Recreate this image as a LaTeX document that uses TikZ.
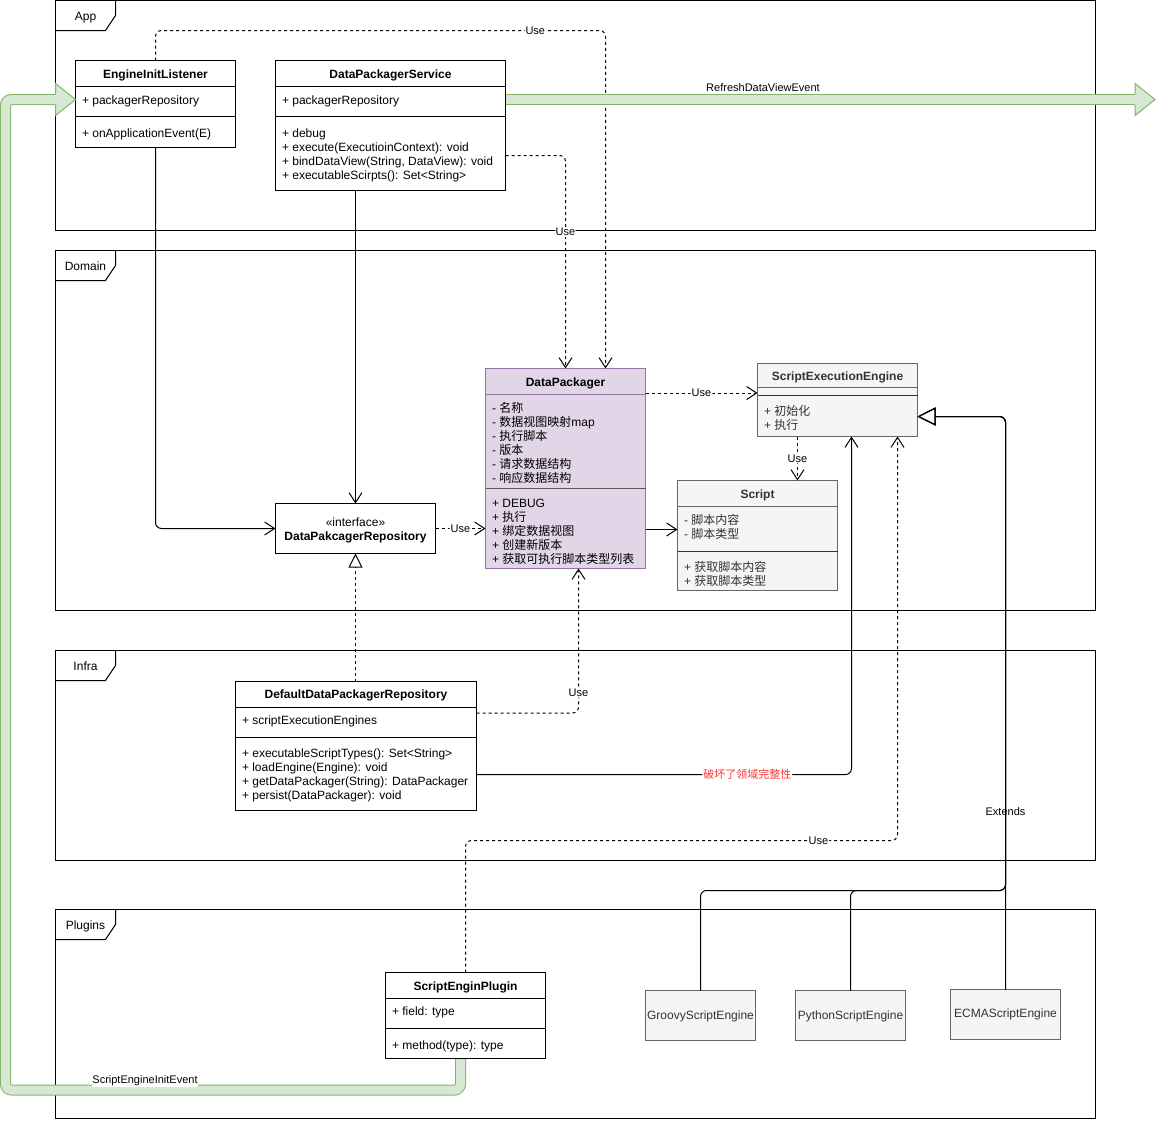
\documentclass[tikz,border=0pt]{standalone}
\usepackage{fontspec}
\setmainfont{Liberation Sans}
\newfontfamily\cjkf{Noto Sans CJK SC}
\usetikzlibrary{arrows.meta,calc}

\definecolor{dpfill}{HTML}{E1D5E7}
\definecolor{dpline}{HTML}{9673A6}
\definecolor{gfill}{HTML}{F5F5F5}
\definecolor{gline}{HTML}{666666}
\definecolor{gtext}{HTML}{333333}
\definecolor{evfill}{HTML}{D5E8D4}
\definecolor{evline}{HTML}{82B366}
\definecolor{warn}{HTML}{FF3333}

\begin{document}
\begin{tikzpicture}[x=1pt, y=-1pt, line width=1pt,
  font=\fontsize{12}{14}\selectfont,
  cls/.style={draw, fill=white, anchor=north west, inner sep=0pt, outer sep=0pt},
  grey/.style={cls, draw=gline, fill=gfill, text=gtext},
  frm/.style={draw, anchor=north west, inner sep=0pt, outer sep=0pt},
  txt/.style={anchor=base west, inner sep=0pt},
  hdr/.style={anchor=base, inner sep=0pt, font=\fontsize{12}{14}\selectfont\bfseries},
  lbl/.style={font=\fontsize{11}{13}\selectfont, fill=white, inner sep=1pt},
  uses/.style={dash pattern=on 3pt off 3pt, rounded corners=6pt, -{Straight Barb[length=10pt,width=13pt]}},
  assoc/.style={rounded corners=6pt, -{Straight Barb[length=10pt,width=13pt]}},
  realize/.style={dash pattern=on 3pt off 3pt, -{Triangle[open,length=14pt,width=14pt]}},
  extendsto/.style={rounded corners=6pt, -{Triangle[open,length=18pt,width=18pt]}},
]
\useasboundingbox (0,0) rectangle (1156,1120);

% ---------- layer frames ----------
\node[frm, minimum width=1040pt, minimum height=229.5pt] (appF) at (55.5,0.5) {};
\node[frm, minimum width=1040pt, minimum height=360pt] (domF) at (55.5,250.5) {};
\node[frm, minimum width=1040pt, minimum height=210pt] (infF) at (55.5,650.5) {};
\node[frm, minimum width=1040pt, minimum height=209pt] (plgF) at (55.5,909.5) {};
\foreach \f/\t in {appF/App, domF/Domain, infF/Infra, plgF/Plugins} {
  \draw ($(\f.north west)+(0,30)$) -- ++(50,0) -- ++(10,-15) -- ++(0,-15);
  \node[anchor=base, inner sep=0pt] (\f-tab) at ($(\f.north west)+(30,19.5)$) {\t};
}

% ---------- classes ----------
% EngineInitListener
\node[cls, minimum width=160pt, minimum height=87pt] (eil) at (75.5,60.5) {};
\draw ($(eil.north west)+(0,26)$) -- ($(eil.north east)+(0,26)$);
\draw ($(eil.north west)+(0,56)$) -- ($(eil.north east)+(0,56)$);
\node[hdr] (eil-h) at ($(eil.north)+(0,17.5)$) {EngineInitListener};
\node[txt] (eil-a) at ($(eil.north west)+(6,44)$) {+ packagerRepository};
\node[txt] (eil-m) at ($(eil.north west)+(6,77)$) {+ onApplicationEvent(E)};

% DataPackagerService
\node[cls, minimum width=230pt, minimum height=130pt] (dps) at (275.5,60.5) {};
\draw ($(dps.north west)+(0,26)$) -- ($(dps.north east)+(0,26)$);
\draw ($(dps.north west)+(0,56)$) -- ($(dps.north east)+(0,56)$);
\node[hdr] (dps-h) at ($(dps.north)+(0,17.5)$) {DataPackagerService};
\node[txt] (dps-a) at ($(dps.north west)+(6,44)$) {+ packagerRepository};
\foreach \t [count=\i] in {{+ debug}, {+ execute(ExecutioinContext): void},
    {+ bindDataView(String, DataView): void}, {+ executableScirpts(): Set<String>}}
  \node[txt] (dps-m\i) at ($(dps.north west)+(6,63+14*\i)$) {\t};

% DataPackager
\node[cls, draw=dpline, fill=dpfill, minimum width=160pt, minimum height=200pt] (dp) at (485.5,368.5) {};
\draw[dpline] ($(dp.north west)+(0,26)$) -- ($(dp.north east)+(0,26)$);
\draw[black!65, line width=1.3pt] ($(dp.north west)+(0,120)$) -- ($(dp.north east)+(0,120)$);
\node[hdr] (dp-h) at ($(dp.north)+(0,17.5)$) {DataPackager};
\foreach \t [count=\i] in {{- {\cjkf 名称}}, {- {\cjkf 数据视图映射}map}, {- {\cjkf 执行脚本}},
    {- {\cjkf 版本}}, {- {\cjkf 请求数据结构}}, {- {\cjkf 响应数据结构}}}
  \node[txt] (dp-a\i) at ($(dp.north west)+(6,30+14*\i)$) {\t};
\foreach \t [count=\i] in {{+ DEBUG}, {+ {\cjkf 执行}}, {+ {\cjkf 绑定数据视图}},
    {+ {\cjkf 创建新版本}}, {+ {\cjkf 获取可执行脚本类型列表}}}
  \node[txt] (dp-m\i) at ($(dp.north west)+(6,125+14*\i)$) {\t};

% DataPakcagerRepository (interface)
\node[cls, minimum width=160pt, minimum height=50pt] (dpr) at (275.5,503.5) {};
\node[anchor=base, inner sep=0pt] (dpr-s) at ($(dpr.north)+(0,23)$) {«interface»};
\node[hdr] (dpr-h) at ($(dpr.north)+(0,37)$) {DataPakcagerRepository};

% ScriptExecutionEngine
\node[grey, minimum width=160pt, minimum height=73pt] (see) at (757.5,363.5) {};
\draw[gline] ($(see.north west)+(0,24)$) -- ($(see.north east)+(0,24)$);
\draw[gtext, line width=1.3pt] ($(see.north west)+(0,32)$) -- ($(see.north east)+(0,32)$);
\node[hdr, text=gtext] (see-h) at ($(see.north)+(0,17)$) {ScriptExecutionEngine};
\node[txt, text=gtext] (see-m1) at ($(see.north west)+(6,51.5)$) {+ {\cjkf 初始化}};
\node[txt, text=gtext] (see-m2) at ($(see.north west)+(6,65.5)$) {+ {\cjkf 执行}};

% Script
\node[grey, minimum width=160pt, minimum height=110pt] (scr) at (677.5,480.5) {};
\draw[gline] ($(scr.north west)+(0,26)$) -- ($(scr.north east)+(0,26)$);
\draw[gtext, line width=1.3pt] ($(scr.north west)+(0,71)$) -- ($(scr.north east)+(0,71)$);
\node[hdr, text=gtext] (scr-h) at ($(scr.north)+(0,17.5)$) {Script};
\node[txt, text=gtext] (scr-a1) at ($(scr.north west)+(6,44)$) {- {\cjkf 脚本内容}};
\node[txt, text=gtext] (scr-a2) at ($(scr.north west)+(6,58)$) {- {\cjkf 脚本类型}};
\node[txt, text=gtext] (scr-m1) at ($(scr.north west)+(6,90.5)$) {+ {\cjkf 获取脚本内容}};
\node[txt, text=gtext] (scr-m2) at ($(scr.north west)+(6,104.5)$) {+ {\cjkf 获取脚本类型}};

% DefaultDataPackagerRepository
\node[cls, minimum width=241pt, minimum height=129pt] (ddpr) at (235.5,681.5) {};
\draw ($(ddpr.north west)+(0,26)$) -- ($(ddpr.north east)+(0,26)$);
\draw ($(ddpr.north west)+(0,56)$) -- ($(ddpr.north east)+(0,56)$);
\node[hdr] (ddpr-h) at ($(ddpr.north)+(0,17)$) {DefaultDataPackagerRepository};
\node[txt] (ddpr-a) at ($(ddpr.north west)+(6,43)$) {+ scriptExecutionEngines};
\foreach \t [count=\i] in {{+ executableScriptTypes(): Set<String>}, {+ loadEngine(Engine): void},
    {+ getDataPackager(String): DataPackager}, {+ persist(DataPackager): void}}
  \node[txt] (ddpr-m\i) at ($(ddpr.north west)+(6,62+14*\i)$) {\t};

% ScriptEnginPlugin
\node[cls, minimum width=160pt, minimum height=86pt] (plg) at (385.5,972.5) {};
\draw ($(plg.north west)+(0,26)$) -- ($(plg.north east)+(0,26)$);
\draw ($(plg.north west)+(0,56)$) -- ($(plg.north east)+(0,56)$);
\node[hdr] (plg-h) at ($(plg.north)+(0,17.5)$) {ScriptEnginPlugin};
\node[txt] (plg-a) at ($(plg.north west)+(6,43)$) {+ field: type};
\node[txt] (plg-m) at ($(plg.north west)+(6,77)$) {+ method(type): type};

% script engine implementations
\node[grey, minimum width=110pt, minimum height=50pt] (groovy) at (645.5,990.5) {};
\node[text=gtext, inner sep=0pt] (groovy-t) at ($(groovy.center)+(0,1)$) {GroovyScriptEngine};
\node[grey, minimum width=110pt, minimum height=50pt] (python) at (795.5,990.5) {};
\node[text=gtext, inner sep=0pt] (python-t) at ($(python.center)+(0,1)$) {PythonScriptEngine};
\node[grey, minimum width=110pt, minimum height=50pt] (ecma) at (950.5,989.5) {};
\node[text=gtext, inner sep=0pt] (ecma-t) at ($(ecma.center)+(0,0)$) {ECMAScriptEngine};

% ---------- relations ----------
\draw[uses] (eil.north) -- (155.5,30.5) -- node[lbl, pos=0.844] (u1) {Use} (605.5,30.5) -- ($(dp.north)+(40,0)$);
\draw[uses] ($(dps.north east)+(0,95)$) -- (565.5,155.5) -- node[lbl, pos=0.36] (u2) {Use} (dp.north);
\draw[assoc] (eil.south) |- (dpr.west);
\draw[assoc] (dpr.north |- dps.south) -- (dpr.north);
\draw[uses] (dpr.east) -- node[lbl] (u3) {Use} (dp.west |- dpr.east);
\draw[uses] ($(dp.north east)+(0,24.5)$) -- node[lbl] (u4) {Use} ($(see.north west)+(0,29.5)$);
\draw[assoc] ($(dp.north east)+(0,161)$) -- ($(scr.north west)+(0,49)$);
\draw[uses] ($(see.south west)+(40,0)$) -- node[lbl] (u5) {Use} ($(scr.north east)+(-40,0)$);
\draw[realize] (dpr.south |- ddpr.north) -- (dpr.south);
\draw[uses] ($(ddpr.north east)+(0,31.5)$) -- (578.5,713) -- node[lbl, pos=0.14] (u6) {Use} ($(dp.south west)+(93,0)$);
\draw[assoc] ($(ddpr.north east)+(0,93)$) -- node[lbl, pos=0.722, text=warn] (brk) {\cjkf 破坏了领域完整性} (851.5,774.5) -- ($(see.south west)+(94,0)$);
\draw[uses] (plg.north) -- (465.5,840.5) -- node[lbl, pos=0.817] (u7) {Use} (897.5,840.5) -- ($(see.south west)+(140,0)$);
\draw[extendsto] (ecma.north) -- node[pos=0.31, font=\fontsize{11}{13}\selectfont, inner sep=0pt] (ext) {Extends} (1005.5,416.5) -- ($(see.north east)+(0,53)$);
\draw[extendsto] (groovy.north) -- (700.5,890.5) -- (1005.5,890.5) -- (1005.5,416.5) -- ($(see.north east)+(0,53)$);
\draw[extendsto] (python.north) -- (850.5,890.5) -- (1005.5,890.5) -- (1005.5,416.5) -- ($(see.north east)+(0,53)$);

% ---------- event arrows ----------
% RefreshDataViewEvent
\coordinate (rdS) at ($(dps.north east)+(0.5,39)$);
\coordinate (rdE) at (1155,99.5);
\draw[evline, line width=11pt] (rdS) -- ($(rdE)+(-19,0)$);
\draw[evfill, line width=9pt] (rdS) -- ($(rdE)+(-19,0)$);
\fill[evfill] ($(rdE)+(-20,-16)$) -- (rdE) -- ($(rdE)+(-20,16)$) -- cycle;
\draw[evline, line join=miter] ($(rdE)+(-20,-5.5)$) -- ($(rdE)+(-20,-16)$) -- (rdE) -- ($(rdE)+(-20,16)$) -- ($(rdE)+(-20,5.5)$);
\node[font=\fontsize{11}{13}\selectfont, inner sep=0pt] (rdL) at (763,87.5) {RefreshDataViewEvent};

% ScriptEngineInitEvent
\coordinate (siS) at ($(plg.south)+(-5,0.5)$);
\coordinate (siE) at ($(eil.north west)+(0,39)$);
\draw[evline, line width=11pt, rounded corners=6pt] (siS) -- (460.5,1090) -- (5.5,1090) -- (5.5,99.5) -- ($(siE)+(-19,0)$);
\draw[evfill, line width=9pt, rounded corners=6pt] (siS) -- (460.5,1090) -- (5.5,1090) -- (5.5,99.5) -- ($(siE)+(-19,0)$);
\fill[evfill] ($(siE)+(-20,-16)$) -- (siE) -- ($(siE)+(-20,16)$) -- cycle;
\draw[evline, line join=miter] ($(siE)+(-20,-5.5)$) -- ($(siE)+(-20,-16)$) -- (siE) -- ($(siE)+(-20,16)$) -- ($(siE)+(-20,5.5)$);
\node[lbl, inner sep=0.5pt] (siL) at (145,1081) {ScriptEngineInitEvent};
\end{tikzpicture}
\end{document}
